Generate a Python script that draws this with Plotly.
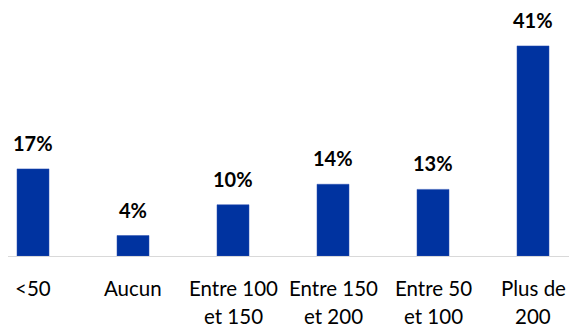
import plotly.graph_objects as go

categories = ["<50", "Aucun", "Entre 100<br>et 150", "Entre 150<br>et 200", "Entre 50<br>et 100", "Plus de<br>200"]
values = [17, 4, 10, 14, 13, 41]
value_labels = ["17%", "4%", "10%", "14%", "13%", "41%"]

BAR = "#0033a0"
FONT = "Lato"

fig = go.Figure()
fig.add_trace(go.Bar(
    x=categories, y=values, width=0.32,
    marker=dict(color=BAR, line=dict(color="#2a4fb0", width=0.5)),
    hoverinfo="skip",
))

annotations = []
for c, v, t in zip(categories, values, value_labels):
    annotations.append(dict(x=c, y=v, xref="x", yref="y", text="<b>%s</b>" % t,
                            showarrow=False, yanchor="middle", yshift=26,
                            font=dict(family=FONT, size=20, color="#000000")))
    for i, line in enumerate(c.split("<br>")):
        annotations.append(dict(x=c, y=0, xref="x", yref="paper", text=line,
                                showarrow=False, yanchor="middle", yshift=-32 - 28 * i,
                                font=dict(family=FONT, size=20.5, color="#000000")))

fig.update_layout(
    width=569, height=318,
    margin=dict(l=0, r=0, t=0, b=70),
    paper_bgcolor="white", plot_bgcolor="white",
    showlegend=False,
    annotations=annotations,
    xaxis=dict(type="category", range=[-0.25, 5.44], showticklabels=False,
               showline=True, linecolor="#d9d9d9", linewidth=1, ticks="",
               showgrid=False, zeroline=False),
    yaxis=dict(range=[0, 48.4], visible=False, showgrid=False, zeroline=False),
    bargap=0.68,
)

fig.write_html("out.html")
